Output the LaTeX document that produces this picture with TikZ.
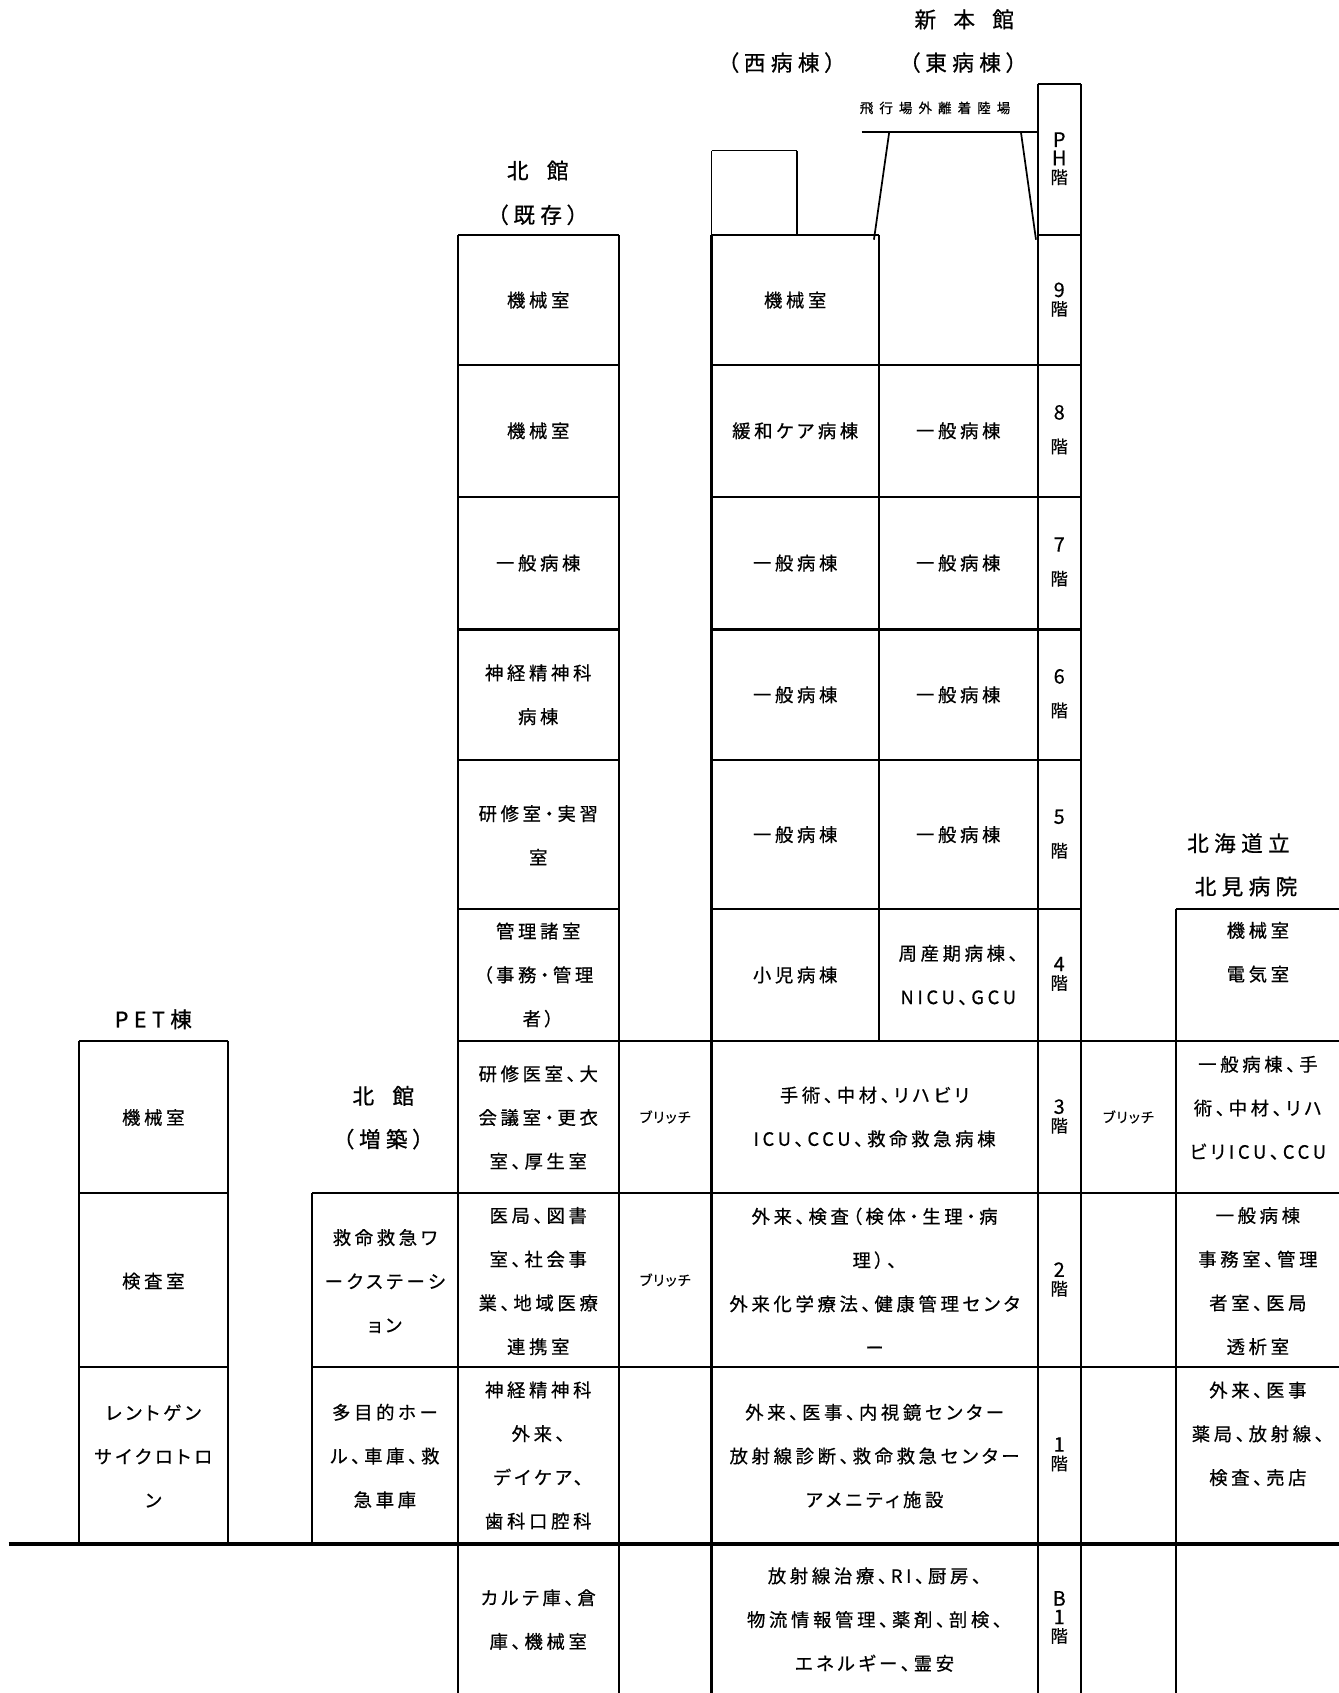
\documentclass[tikz,border=0pt]{standalone}
\usepackage{fontspec}
\setmainfont{Noto Sans CJK JP}
\newfontfamily\cellfont{Noto Sans CJK JP}[LetterSpace=20,RawFeature=+palt,FakeBold=0.6]
\newfontfamily\headfont{Noto Sans CJK JP}[LetterSpace=25,RawFeature=+palt,FakeBold=0.8]
\newfontfamily\heliofont{Noto Sans CJK JP}[LetterSpace=45,RawFeature=+palt,FakeBold=0.5]
\newfontfamily\bridgefont{Noto Sans CJK JP}[LetterSpace=8,RawFeature=+palt,FakeBold=0.5]
\newfontfamily\floorfont{Noto Sans CJK JP}[FakeBold=0.4]
\newcommand{\dg}[1]{{\fontsize{18.5}{17}\selectfont #1}}
\tikzset{
  wall/.style={line width=2pt},
  thinwall/.style={line width=1.3pt},
  groundline/.style={line width=4pt},
  cell/.style={align=center, inner sep=0pt, font=\cellfont\fontsize{17}{40.5}\selectfont},
  head/.style={align=center, inner sep=0pt, font=\headfont\fontsize{20}{40}\selectfont},
  helio/.style={align=center, inner sep=0pt, font=\heliofont\fontsize{12.5}{20}\selectfont},
  bridge/.style={align=center, inner sep=0pt, font=\bridgefont\fontsize{13}{20}\selectfont},
  floortight/.style={align=center, inner sep=0pt, font=\floorfont\fontsize{16}{17}\selectfont},
  floorwide/.style={align=center, inner sep=0pt, font=\floorfont\fontsize{16}{31}\selectfont},
}
\begin{document}
\begin{tikzpicture}[x=1pt,y=-1pt]
\useasboundingbox (0,0) rectangle (1240,1568);

% ---------- horizontal walls ----------
\draw[wall] (961,78) -- (1001,78);
\draw[wall] (798,122) -- (961,122);
\draw[thinwall] (659,139.5) -- (738,139.5);
\draw[wall] (424,218) -- (573,218);
\draw[wall] (659,218) -- (814,218);
\draw[wall] (961,218) -- (1001,218);
\foreach \yy in {338,460,583,704}{
  \draw[wall] (424,\yy) -- (573,\yy);
  \draw[wall] (659,\yy) -- (1001,\yy);
}
\draw[wall] (424,842) -- (573,842);
\draw[wall] (659,842) -- (1001,842);
\draw[wall] (1089,842) -- (1240,842);
\draw[wall] (73,964) -- (211,964);
\draw[wall] (424,964) -- (1240,964);
\draw[wall] (73,1105) -- (211,1105);
\draw[wall] (289,1105) -- (1240,1105);
\draw[wall] (73,1266) -- (211,1266);
\draw[wall] (289,1266) -- (1240,1266);
\draw[groundline] (8,1430) -- (1240,1430);

% ---------- vertical walls ----------
\draw[wall] (73,964) -- (73,1430);
\draw[wall] (211,964) -- (211,1430);
\draw[wall] (289,1105) -- (289,1430);
\draw[wall] (424,218) -- (424,1568);
\draw[wall] (573,218) -- (573,1568);
\draw[thinwall] (659,139.5) -- (659,218);
\draw[wall] (659,218) -- (659,1568);
\draw[thinwall] (738,139.5) -- (738,218);
\draw[wall] (814,218) -- (814,964);
\draw[wall] (961,78) -- (961,1568);
\draw[wall] (1001,78) -- (1001,1568);
\draw[wall] (1089,842) -- (1089,1568);

% heliport supports
\draw[line width=1.6pt] (823.6,122) -- (809.4,222);
\draw[line width=1.6pt] (945.5,122) -- (959.5,222);

% ---------- headers ----------
\node[head] (hShin) at (893,18) {新\hspace{16pt}本\hspace{16pt}館};
\node[head] (hWest) at (724,58) {（西病棟）};
\node[head] (hEast) at (892,58) {（東病棟）};
\node[helio] (hHeli) at (866,100) {飛行場外離着陸場};
\node[head] (hKita) at (498,158) {北\hspace{17pt}館};
\node[head] (hKizon) at (498,199) {（既存）};
\node[head] (hPET) at (142,944) {PET棟};
\node[head] (hKita2) at (355,1015) {北\hspace{17pt}館};
\node[head] (hZou) at (355,1055) {（増築）};
\node[head] (hDo) at (1147,781) {北海道立};
\node[head] (hKitami) at (1154,821) {北見病院};

% ---------- floor labels ----------
\node[floortight] (fPH) at (981,147) {\dg{P}\\\dg{H}\\階};
\node[floortight] (f9) at (981,277.5) {\dg{9}\\階};
\node[floorwide] (f8) at (981,398) {\dg{8}\\階};
\node[floorwide] (f7) at (981,520.5) {\dg{7}\\階};
\node[floorwide] (f6) at (981,642.5) {\dg{6}\\階};
\node[floorwide] (f5) at (981,772.5) {\dg{5}\\階};
\node[floortight] (f4) at (981,902) {\dg{4}\\階};
\node[floortight] (f3) at (981,1034) {\dg{3}\\階};
\node[floortight] (f2) at (981,1185) {\dg{2}\\階};
\node[floortight] (f1) at (981,1347) {\dg{1}\\階};
\node[floortight] (fB1) at (981,1498) {\dg{B}\\\dg{1}\\階};

% ---------- North building (existing) ----------
\node[cell] (k9) at (498.5,278) {機械室};
\node[cell] (k8) at (498.5,399) {機械室};
\node[cell] (k7) at (498.5,521.5) {一般病棟};
\node[cell] (k6) at (498.5,643.5) {神経精神科\\病棟};
\node[cell] (k5) at (498.5,773.5) {研修室・実習\\室};
\node[cell] (k4) at (498.5,903) {管理諸室\\（事務・管理\\者）};
\node[cell] (k3) at (498.5,1035) {研修医室、大\\会議室・更衣\\室、厚生室};
\node[cell] (k2) at (498.5,1186.5) {医局、図書\\室、社会事\\業、地域医療\\連携室};
\node[cell] (k1) at (498.5,1348) {神経精神科\\外来、\\デイケア、\\歯科口腔科};
\node[cell] (kB1) at (498.5,1500) {カルテ庫、倉\\庫、機械室};

% ---------- bridges ----------
\node[bridge] (b3) at (616,1034.5) {ブリッチ};
\node[bridge] (b2) at (616,1185.5) {ブリッチ};
\node[bridge] (b3r) at (1045,1034.5) {ブリッチ};

% ---------- West / East wards ----------
\node[cell] (w9) at (736.5,278) {機械室};
\node[cell] (w8) at (736.5,399) {緩和ケア病棟};
\node[cell] (w7) at (736.5,521.5) {一般病棟};
\node[cell] (w6) at (736.5,643.5) {一般病棟};
\node[cell] (w5) at (736.5,773) {一般病棟};
\node[cell] (w4) at (736.5,903) {小児病棟};
\node[cell] (e8) at (887.5,399) {一般病棟};
\node[cell] (e7) at (887.5,521.5) {一般病棟};
\node[cell] (e6) at (887.5,643.5) {一般病棟};
\node[cell] (e5) at (887.5,773) {一般病棟};
\node[cell] (e4) at (887.5,903) {周産期病棟、\\NICU、GCU};
\node[cell] (m3) at (810,1034.5) {手術、中材、リハビリ\\ICU、CCU、救命救急病棟};
\node[cell] (m2) at (810,1186.5) {外来、検査（検体・生理・病\\理）、\\外来化学療法、健康管理センタ\\ー};
\node[cell] (m1) at (810,1348.5) {外来、医事、内視鏡センター\\放射線診断、救命救急センター\\アメニティ施設};
\node[cell] (mB1) at (810,1500) {放射線治療、RI、厨房、\\物流情報管理、薬剤、剖検、\\エネルギー、霊安};

% ---------- PET ----------
\node[cell] (p3) at (142,1035) {機械室};
\node[cell] (p2) at (142,1186.5) {検査室};
\node[cell] (p1) at (142,1348.5) {レントゲン\\サイクロトロ\\ン};

% ---------- North building (extension) ----------
\node[cell] (z2) at (356.5,1186.5) {救命救急ワ\\ークステーシ\\ョン};
\node[cell] (z1) at (356.5,1348.5) {多目的ホー\\ル、車庫、救\\急車庫};

% ---------- Kitami hospital ----------
\node[cell] (h4) at (1165,882) {機械室\\電気室};
\node[cell] (h3) at (1165,1026) {一般病棟、手\\術、中材、リハ\\ビリICU、CCU};
\node[cell] (h2) at (1165,1186.5) {一般病棟\\事務室、管理\\者室、医局\\透析室};
\node[cell] (h1) at (1165,1328) {外来、医事\\薬局、放射線、\\検査、売店};
\end{tikzpicture}
\end{document}
